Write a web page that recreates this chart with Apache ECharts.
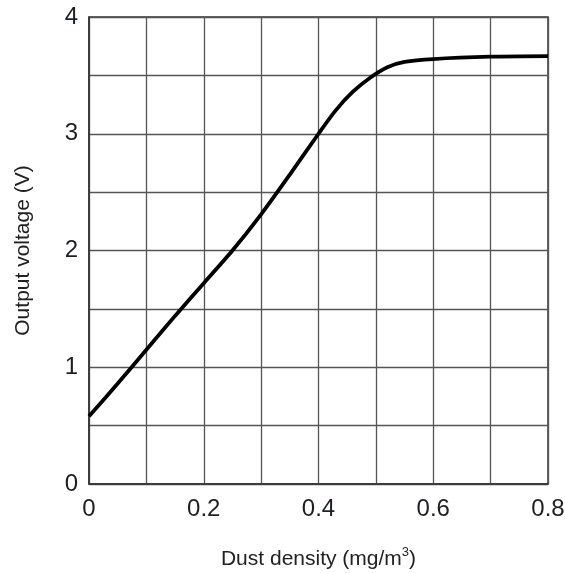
<!DOCTYPE html>
<html>
<head>
<meta charset="utf-8">
<script src="https://cdn.jsdelivr.net/npm/echarts@6/dist/echarts.min.js"></script>
<style>
  html, body { margin: 0; padding: 0; background: #fff; }
  #chart { width: 565px; height: 573px; }
</style>
</head>
<body>
<div id="chart"></div>
<script>
const FONT = '"Liberation Sans", Arial, sans-serif';

// dust density (mg/m3) vs output voltage (V)
const density = [0, 0.05, 0.1, 0.15, 0.2, 0.25, 0.3, 0.35, 0.4, 0.43, 0.46, 0.49, 0.52, 0.55, 0.6, 0.7, 0.8];
const voltage = [0.58, 0.86, 1.15, 1.44, 1.72, 2.0, 2.31, 2.65, 3.0, 3.2, 3.36, 3.48, 3.57, 3.615, 3.64, 3.66, 3.665];

const X_LABELS = [0, 0.2, 0.4, 0.6, 0.8];
const Y_LABELS = [0, 1, 2, 3, 4];

const c = echarts.init(document.getElementById('chart'), null, { renderer: 'canvas' });

const near = (v, list) => list.some(t => Math.abs(t - v) < 1e-6);

c.setOption({
    animation: false,
    grid: {
        left: 89, right: 17, top: 17, bottom: 89, outerBoundsMode: 'none',
        show: true, borderColor: '#333', borderWidth: 1.5
    },
    xAxis: {
        type: 'value', min: 0, max: 0.8, interval: 0.1,
        name: 'Dust density (mg/m{sup|3})', nameLocation: 'middle', nameGap: 62,
        nameTextStyle: {
            fontSize: 21, lineHeight: 26, color: '#222', fontFamily: FONT,
            rich: { sup: { fontSize: 13, lineHeight: 14, verticalAlign: 'top', color: '#222', fontFamily: FONT } }
        },
        axisLine: { show: true, lineStyle: { color: '#333', width: 1.5 } },
        axisTick: { show: false },
        axisLabel: {
            margin: 13, fontSize: 24, color: '#1e1e26', fontFamily: FONT,
            formatter: v => near(v, X_LABELS) ? String(+v.toFixed(1)) : ''
        },
        splitLine: { show: true, lineStyle: { color: '#555', width: 1.3 } }
    },
    yAxis: {
        type: 'value', min: 0, max: 4, interval: 0.5,
        name: 'Output voltage (V)', nameLocation: 'middle', nameGap: 55,
        nameTextStyle: { fontSize: 21, color: '#222', fontFamily: FONT },
        axisLine: { show: true, lineStyle: { color: '#333', width: 1.5 } },
        axisTick: { show: false },
        axisLabel: {
            margin: 11, fontSize: 24, color: '#1e1e26', fontFamily: FONT,
            formatter: v => near(v, Y_LABELS) ? String(v) : ''
        },
        splitLine: { show: true, lineStyle: { color: '#555', width: 1.3 } }
    },
    series: [{
        type: 'line',
        data: density.map((x, i) => [x, voltage[i]]),
        smooth: 0.25,
        showSymbol: false,
        lineStyle: { color: '#000', width: 3.8 }
    }]
});
</script>
</body>
</html>
